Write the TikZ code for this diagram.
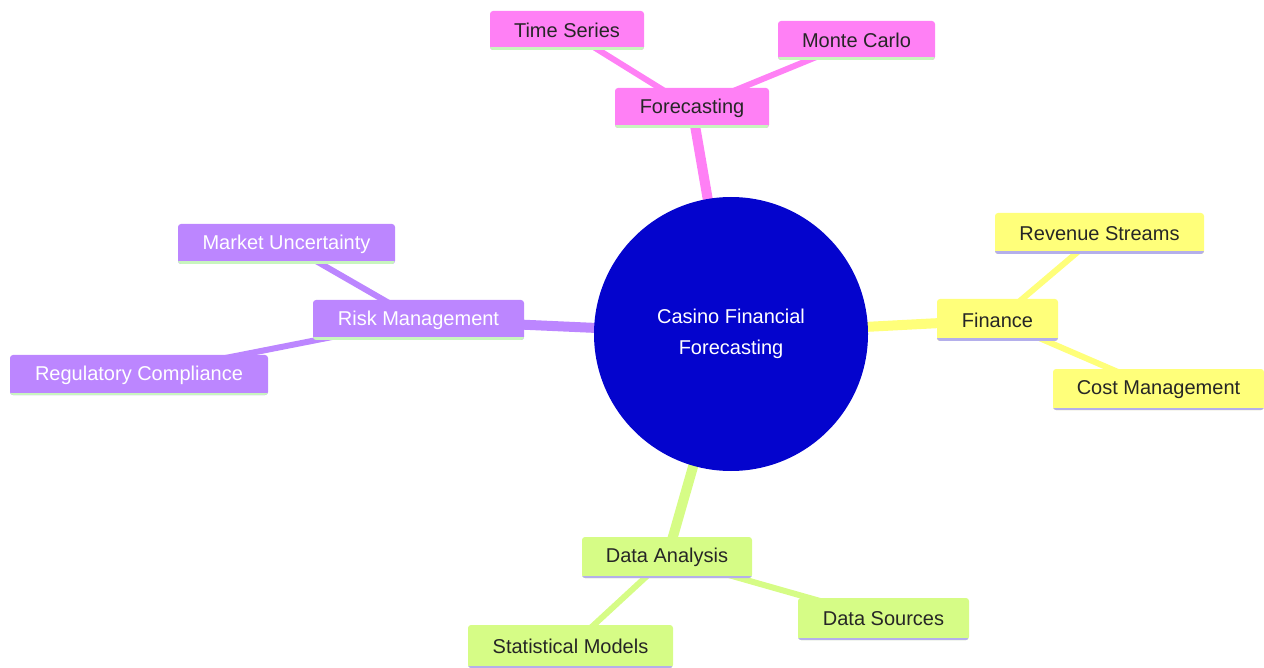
\documentclass[tikz,border=0pt]{standalone}
\usepackage{fontspec}
\setmainfont{Liberation Sans}
\usetikzlibrary{backgrounds}
\definecolor{rootblue}{RGB}{4,4,205}
\definecolor{pinkc}{RGB}{255,128,245}
\definecolor{yellowc}{RGB}{255,255,122}
\definecolor{greenc}{RGB}{214,252,134}
\definecolor{purplec}{RGB}{188,134,255}
\definecolor{lgreen}{RGB}{200,245,190}
\definecolor{lav}{RGB}{180,175,235}
\tikzset{
  leaf/.style={rectangle, rounded corners=3pt, minimum height=40pt, inner sep=0pt,
    font=\fontsize{20}{24}\selectfont},
  pinkbox/.style={leaf, fill=pinkc, text=black!85,
    path picture={\draw[lgreen, line width=5pt] (path picture bounding box.south west) -- (path picture bounding box.south east);}},
  yellowbox/.style={leaf, fill=yellowc, text=black!85,
    path picture={\draw[lav, line width=5pt] (path picture bounding box.south west) -- (path picture bounding box.south east);}},
  greenbox/.style={leaf, fill=greenc, text=black!85,
    path picture={\draw[lav, line width=5pt] (path picture bounding box.south west) -- (path picture bounding box.south east);}},
  purplebox/.style={leaf, fill=purplec, text=white,
    path picture={\draw[lgreen, line width=5pt] (path picture bounding box.south west) -- (path picture bounding box.south east);}},
  rootnode/.style={circle, fill=rootblue, text=white, minimum size=274pt, inner sep=0pt, align=center,
    font=\fontsize{20}{31}\selectfont},
  mainedge/.style={line width=10pt},
  subedge/.style={line width=6pt},
}
\begin{document}
\begin{tikzpicture}[x=1pt,y=-1pt]
\useasboundingbox (0,0) rectangle (1264,668);
\node[rootnode] (root) at (731,334) {Casino Financial\\Forecasting};
\node[pinkbox, minimum width=154pt] (fc) at (692,108) {Forecasting};
\node[pinkbox, minimum width=154pt, minimum height=39pt] (ts) at (567,30.5) {Time Series};
\node[pinkbox, minimum width=157pt, minimum height=39pt] (mc) at (856.5,40.5) {Monte Carlo};
\node[yellowbox, minimum width=121pt, minimum height=42pt] (fin) at (997.5,320) {Finance};
\node[yellowbox, minimum width=209pt, minimum height=41pt] (rs) at (1099.5,233.5) {Revenue Streams};
\node[yellowbox, minimum width=211pt, minimum height=41pt] (cm) at (1158.5,389.5) {Cost Management};
\node[purplebox, minimum width=211pt] (rm) at (418.5,320) {Risk Management};
\node[purplebox, minimum width=217pt] (mu) at (286.5,244) {Market Uncertainty};
\node[purplebox, minimum width=258pt] (rc) at (139,375) {Regulatory Compliance};
\node[greenbox, minimum width=170pt, minimum height=41pt] (da) at (667,557.5) {Data Analysis};
\node[greenbox, minimum width=205pt, minimum height=43pt] (sm) at (570.5,646.5) {Statistical Models};
\node[greenbox, minimum width=171pt, minimum height=42pt] (ds) at (883.5,619) {Data Sources};
\begin{scope}[on background layer]
\draw[mainedge, pinkc] (root.center) -- (fc.center);
\draw[mainedge, yellowc] (root.center) -- (fin.center);
\draw[mainedge, purplec] (root.center) -- (rm.center);
\draw[mainedge, greenc] (root.center) -- (da.center);
\draw[subedge, pinkc] (fc.center) -- (ts.center);
\draw[subedge, pinkc] (fc.center) -- (mc.center);
\draw[subedge, yellowc] (fin.center) -- (rs.center);
\draw[subedge, yellowc] (fin.center) -- (cm.center);
\draw[subedge, purplec] (rm.center) -- (mu.center);
\draw[subedge, purplec] (rm.center) -- (rc.center);
\draw[subedge, greenc] (da.center) -- (sm.center);
\draw[subedge, greenc] (da.center) -- (ds.center);
\end{scope}
\end{tikzpicture}
\end{document}
